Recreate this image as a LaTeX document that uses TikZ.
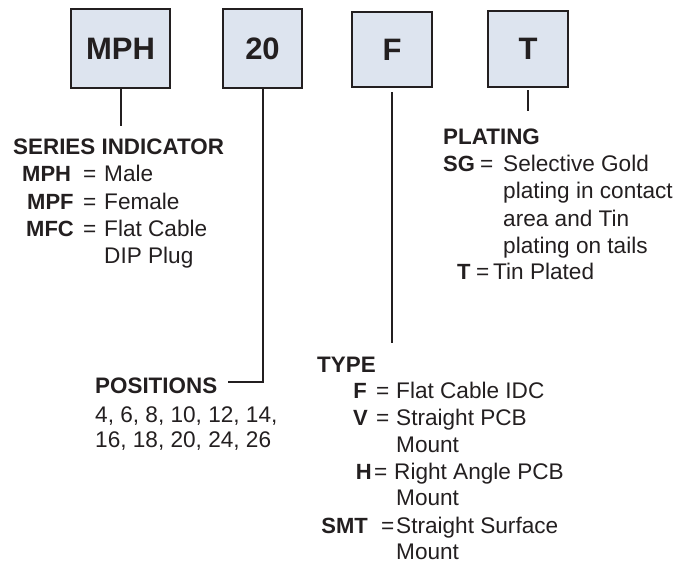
\documentclass[tikz,border=0pt]{standalone}
\usepackage{fontspec}
\setmainfont{Liberation Sans}
\definecolor{ink}{HTML}{231F20}
\definecolor{boxfill}{HTML}{DDE4EF}
\tikzset{
  codebox/.style={draw=ink, line width=1.2pt, fill=boxfill, inner sep=0pt, text=ink,
    font=\fontsize{31}{31}\selectfont\bfseries},
  hdr/.style={anchor=base west, inner sep=0pt, text=ink, font=\fontsize{22.4}{26}\selectfont\bfseries},
  key/.style={anchor=base west, inner sep=0pt, text=ink, font=\fontsize{22}{26}\selectfont\bfseries},
  keyr/.style={anchor=base east, inner sep=0pt, text=ink, font=\fontsize{22}{26}\selectfont\bfseries},
  txt/.style={anchor=base west, inner sep=0pt, text=ink, font=\fontsize{22.6}{26}\selectfont},
  lead/.style={draw=ink, line width=2pt}
}
\begin{document}
\begin{tikzpicture}[x=1pt,y=-1pt]
\useasboundingbox (0,0) rectangle (687,565);
% code boxes
\node[codebox, minimum width=99pt, minimum height=79pt] (bmph) at (120.5,48.5) {MPH};
\node[codebox, minimum width=79pt, minimum height=79pt] (b20) at (262.5,48.5) {20};
\node[codebox, minimum width=80pt, minimum height=75pt] (bf) at (392,49.5) {F};
\node[codebox, minimum width=80pt, minimum height=76pt] (bt) at (528,49) {T};

% connector ends
\coordinate (mphend) at (bmph.south |- 0,126);
\coordinate (c20corner) at (b20.south |- 0,382);
\coordinate (c20end) at (228,382);
\coordinate (fstart) at (bf.south |- 0,92);
\coordinate (fend) at (bf.south |- 0,343);
\coordinate (tstart) at (bt.south |- 0,90);
\coordinate (tend) at (bt.south |- 0,111);

\draw[lead] (bmph.south) -- (mphend);
\draw[lead] (b20.south) -- (c20corner) -- (c20end);
\draw[lead] (fstart) -- (fend);
\draw[lead] (tstart) -- (tend);

% series indicator
\node[hdr] (shdr) at (13,154) {SERIES INDICATOR};
\node[key] (s1k) at (22,181) {MPH};
\node[txt] (s1e) at (83,181) {=};
\node[txt] (s1t) at (104,181) {Male};
\node[key] (s2k) at (27,209) {MPF};
\node[txt] (s2e) at (83,209) {=};
\node[txt] (s2t) at (104,209) {Female};
\node[key] (s3k) at (26,236) {MFC};
\node[txt] (s3e) at (83,236) {=};
\node[txt] (s3t) at (104,236) {Flat Cable};
\node[txt] (s4t) at (104,263) {DIP Plug};

% plating
\node[hdr] (phdr) at (443,144) {PLATING};
\node[key] (p1k) at (443,171) {SG};
\node[txt] (p1e) at (480,171) {=};
\node[txt] (p1t) at (503,171) {Selective Gold};
\node[txt] (p2t) at (503,198) {plating in contact};
\node[txt] (p3t) at (503,226) {area and Tin};
\node[txt] (p4t) at (503,253) {plating on tails};
\node[key] (p5k) at (457,279) {T};
\node[txt] (p5e) at (476,279) {=};
\node[txt] (p5t) at (493,279) {Tin Plated};

% positions
\node[hdr] (poshdr) at (95,393) {POSITIONS};
\node[txt] (pos1) at (95,422) {4, 6, 8, 10, 12, 14,};
\node[txt] (pos2) at (95,447) {16, 18, 20, 24, 26};

% type
\node[hdr] (thdr) at (317,372) {TYPE};
\node[keyr] (t1k) at (367,398) {F};
\node[txt] (t1e) at (376,398) {=};
\node[txt] (t1t) at (396,398) {Flat Cable IDC};
\node[keyr] (t2k) at (368,425) {V};
\node[txt] (t2e) at (376,425) {=};
\node[txt] (t2t) at (396,425) {Straight PCB};
\node[txt] (t3t) at (396,452) {Mount};
\node[keyr] (t4k) at (372,479) {H};
\node[txt] (t4e) at (374,479) {=};
\node[txt] (t4t) at (394,479) {Right Angle PCB};
\node[txt] (t5t) at (396,505) {Mount};
\node[keyr] (t6k) at (368,533) {SMT};
\node[txt] (t6e) at (381,533) {=};
\node[txt] (t6t) at (396,533) {Straight Surface};
\node[txt] (t7t) at (396,559) {Mount};
\end{tikzpicture}
\end{document}
